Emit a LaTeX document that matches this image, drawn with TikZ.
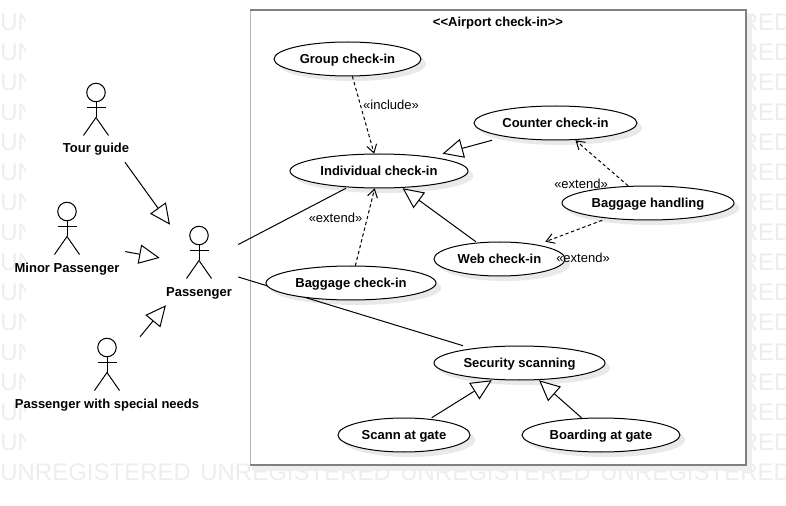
\documentclass[tikz,border=0pt]{standalone}
\usepackage{fontspec}
\setmainfont{Liberation Sans}
\usetikzlibrary{arrows.meta, shapes.geometric, calc, backgrounds}
\definecolor{markGray}{HTML}{EDEDED}
\definecolor{frameGray}{HTML}{808080}
\definecolor{frameShade}{HTML}{EFEFEF}
\definecolor{caseShade}{HTML}{E9E9E9}
\tikzstyle{caseOval} = [ellipse, inner sep=0pt, minimum height=25.5pt, draw=black, line width=0.75pt, fill=white]
\tikzstyle{caseBox} = [rectangle, inner sep=0pt, minimum height=25.5pt, text height=7.5pt, text depth=1pt, font=\bfseries\fontsize{9.75}{11}\selectfont]
\tikzstyle{actorBox} = [rectangle, inner sep=0pt, minimum height=60pt]
\tikzstyle{actorText} = [inner sep=0pt, text height=7.5pt, text depth=1pt, font=\bfseries\fontsize{9.75}{11}\selectfont]
\tikzstyle{stereo} = [inner sep=0pt, text height=7.5pt, text depth=1pt, font=\fontsize{9.75}{11}\selectfont]
\tikzstyle{markText} = [inner sep=0pt, text height=13pt, text depth=0pt, text=markGray, font=\fontsize{18}{20}\selectfont]
\tikzstyle{general} = [line width=0.75pt, -{Triangle[open, fill=white, length=15.5pt, width=14.5pt]}]
\tikzstyle{depend} = [line width=0.75pt, dashed, dash pattern=on 2.5pt off 2pt, -{Straight Barb[length=6pt, width=7.5pt]}]
\tikzstyle{assoc} = [line width=0.75pt]
\tikzset{actorFig/.pic={
    \draw [line width=0.75pt] (0,-29.5) circle (9.25);
    \draw [line width=0.75pt] (0,-20.25) -- (0,-4.5) (-9.5,-14.5) -- (9.5,-14.5);
    \draw [line width=0.75pt] (-12.5,13.5) -- (0,-4.5) -- (12.5,13.5);
}}
\begin{document}
\begin{tikzpicture}[x=0.75pt, y=-0.75pt]
    \useasboundingbox (0,0) rectangle (786,506);
    \begin{scope}[on background layer]
        % tiled text behind the frame
        \begin{scope}
            \clip (0,0) rectangle (25,459);
            \foreach \row in {22,52,...,442}
                \node (markLeft\row) [markText, anchor=west] at (0,\row) {UN};
        \end{scope}
        \foreach \row in {22,52,...,442}
            \node (markRight\row) [markText, anchor=west] at (740.5,\row) {RED};
        \foreach \col in {0,200,400,600}
            \node (markBottom\col) [markText, anchor=west] at (\col,472) {UNREGISTERED};
        \fill [frameShade] (252,15) rectangle (752,471);
        \fill [white] (250,10) rectangle (746,465);
        \draw [line width=0.75pt, frameGray!60] (250,10) -- (250,465);
        \draw [line width=1.5pt, frameGray] (250,10) -- (746,10) -- (746,465) -- (250,465);
    \end{scope}

    \node (title) [actorText] at (498,22) {<{}<Airport check-in>{}>};

    % use cases
    \node (groupOval) [caseOval, minimum width=110.25pt] at (347.5,59) {};
    \node (group) [caseBox, minimum width=110.25pt] at (groupOval) {Group check-in};
    \node (individualOval) [caseOval, minimum width=133.5pt] at (379,171) {};
    \node (individual) [caseBox, minimum width=133.5pt] at (individualOval) {Individual check-in};
    \node (counterOval) [caseOval, minimum width=122.25pt] at (555.5,123) {};
    \node (counter) [caseBox, minimum width=122.25pt] at (counterOval) {Counter check-in};
    \node (handlingOval) [caseOval, minimum width=129pt] at (648,203) {};
    \node (handling) [caseBox, minimum width=129pt] at (handlingOval) {Baggage handling};
    \node (webOval) [caseOval, minimum width=98.25pt] at (499.5,259) {};
    \node (web) [caseBox, minimum width=98.25pt] at (webOval) {Web check-in};
    \node (baggageOval) [caseOval, minimum width=127.5pt] at (351,283) {};
    \node (baggage) [caseBox, minimum width=127.5pt] at (baggageOval) {Baggage check-in};
    \node (securityOval) [caseOval, minimum width=128.25pt] at (519.5,363) {};
    \node (security) [caseBox, minimum width=128.25pt] at (securityOval) {Security scanning};
    \node (scanOval) [caseOval, minimum width=99pt] at (404,435) {};
    \node (scan) [caseBox, minimum width=99pt] at (scanOval) {Scann at gate};
    \node (boardingOval) [caseOval, minimum width=118.5pt] at (601,435) {};
    \node (boarding) [caseBox, minimum width=118.5pt] at (boardingOval) {Boarding at gate};

    % actors
    \node (tourGuide) [actorBox, minimum width=58.5pt] at (96,122) {};
    \pic at (tourGuide) {actorFig};
    \node (tourGuideText) [actorText] at (96,148) {Tour guide};
    \node (minor) [actorBox, minimum width=87pt] at (67,241) {};
    \pic at (minor) {actorFig};
    \node (minorText) [actorText] at (67,268) {Minor Passenger};
    \node (passenger) [actorBox, minimum width=58.5pt] at (199,265) {};
    \pic at (passenger) {actorFig};
    \node (passengerText) [actorText] at (199,292) {Passenger};
    \node (special) [actorBox, minimum width=147pt] at (107,377) {};
    \pic at (special) {actorFig};
    \node (specialText) [actorText] at (107,404) {Passenger with special needs};

    % labels
    \node (extendA) [stereo] at (335.5,218) {«extend»};
    \node (extendB) [stereo] at (581,184) {«extend»};
    \node (extendC) [stereo] at (583,258) {«extend»};
    \node (includeA) [stereo] at (391,105) {«include»};

    \begin{scope}[on background layer]
        \foreach \name in {group,individual,counter,handling,web,baggage,security,scan,boarding}
            \fill [caseShade] let \p1 = ($(\name.east)-(\name.center)$) in ([shift={(5,5)}]\name.center) ellipse ({\x1} and 12.75pt);
        \draw [general] (tourGuide) -- (passenger);
        \draw [general] (minor) -- (passenger);
        \draw [general] (special) -- (passenger);
        \draw [assoc] (passenger) -- (individual);
        \draw [assoc] (passenger) -- (security);
        \draw [depend] (group) -- (individual);
        \draw [depend] (baggage) -- (individual);
        \draw [depend] (handling) -- (counter);
        \draw [depend] (handling) -- (web);
        \draw [general] (counter) -- (individual);
        \draw [general] (web) -- (individual);
        \draw [general] (scan) -- (security);
        \draw [general] (boarding) -- (security);
    \end{scope}
\end{tikzpicture}
\end{document}
